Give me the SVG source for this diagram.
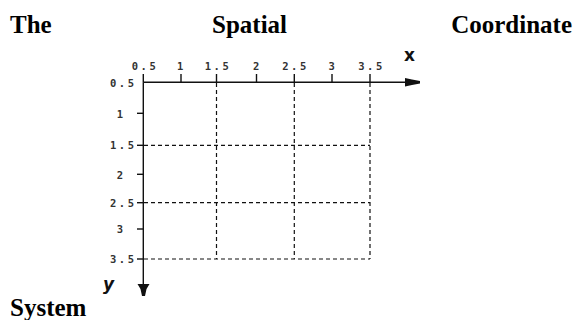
<svg xmlns="http://www.w3.org/2000/svg" width="574" height="320" viewBox="0 0 574 320">
<style>
.title{font-family:"Liberation Serif","Times New Roman",serif;font-weight:bold;font-size:25px;fill:#000}
.tick{font-family:"DejaVu Sans Mono","Liberation Mono",monospace;font-size:10.5px;letter-spacing:2.5px;font-weight:bold;fill:#333}
.axlbl{font-family:"DejaVu Sans","Liberation Sans",sans-serif;font-weight:bold;font-size:17px;fill:#111}
.axis{stroke:#111;stroke-width:1.4;fill:none}
.grid{stroke:#111;stroke-width:1.2;stroke-dasharray:4 3;fill:none}
</style>
<rect width="574" height="320" fill="#fff"/>
<g id="title">
<text class="title" x="10" y="33">The</text>
<text class="title" x="212" y="33">Spatial</text>
<text class="title" x="572" y="33" text-anchor="end">Coordinate</text>
<text class="title" x="10" y="316">System</text>
</g>
<g id="connectors">
<g id="grid">
<line class="grid" x1="216.5" y1="83" x2="216.5" y2="259"/>
<line class="grid" x1="294.3" y1="83" x2="294.3" y2="259"/>
<line class="grid" x1="370" y1="83" x2="370" y2="259"/>
<line class="grid" x1="144" y1="145.3" x2="370" y2="145.3"/>
<line class="grid" x1="144" y1="202.7" x2="370" y2="202.7"/>
<line class="grid" x1="144" y1="259" x2="370" y2="259"/>
</g>
<g id="x-axis">
<line class="axis" x1="143.3" y1="82.3" x2="408" y2="82.3"/>
<path d="M405,78 L412,79.5 L420,81 L420,83.5 L412,85 L405,86.5 Z" fill="#111"/>
<g class="axis">
<line x1="181" y1="74" x2="181" y2="82.3"/>
<line x1="216.5" y1="74" x2="216.5" y2="82.3"/>
<line x1="256.5" y1="74" x2="256.5" y2="82.3"/>
<line x1="294.3" y1="74" x2="294.3" y2="82.3"/>
<line x1="332" y1="74" x2="332" y2="82.3"/>
<line x1="370" y1="74" x2="370" y2="82.3"/>
<line x1="143.3" y1="74" x2="143.3" y2="82.3"/>
</g>
</g>
<g id="y-axis">
<line class="axis" x1="143.3" y1="82.3" x2="143.3" y2="286"/>
<path d="M137.5,284 L149.5,284 L146.5,289 L145,296 L142,296 L140.5,289 Z" fill="#111"/>
<g class="axis">
<line x1="137" y1="113.3" x2="143.3" y2="113.3"/>
<line x1="137" y1="145.3" x2="143.3" y2="145.3"/>
<line x1="137" y1="174.3" x2="143.3" y2="174.3"/>
<line x1="137" y1="202.7" x2="143.3" y2="202.7"/>
<line x1="137" y1="229" x2="143.3" y2="229"/>
<line x1="137" y1="259" x2="143.3" y2="259"/>
</g>
</g>
</g>
<g id="x-labels" class="tick" text-anchor="middle">
<text x="145" y="70">0.5</text>
<text x="181.5" y="70">1</text>
<text x="218" y="70">1.5</text>
<text x="257.5" y="70">2</text>
<text x="295.5" y="70">2.5</text>
<text x="333" y="70">3</text>
<text x="371.5" y="70">3.5</text>
</g>
<g id="y-labels" class="tick" text-anchor="end">
<text x="136.5" y="86.5">0.5</text>
<text x="125.5" y="117.5">1</text>
<text x="136.5" y="149">1.5</text>
<text x="125.5" y="178.5">2</text>
<text x="136.5" y="207">2.5</text>
<text x="125.5" y="233">3</text>
<text x="136.5" y="263">3.5</text>
</g>
<g id="axis-labels">
<text class="axlbl" x="404" y="61">x</text>
<text class="axlbl" x="103" y="290" font-style="italic">y</text>
</g>
</svg>
